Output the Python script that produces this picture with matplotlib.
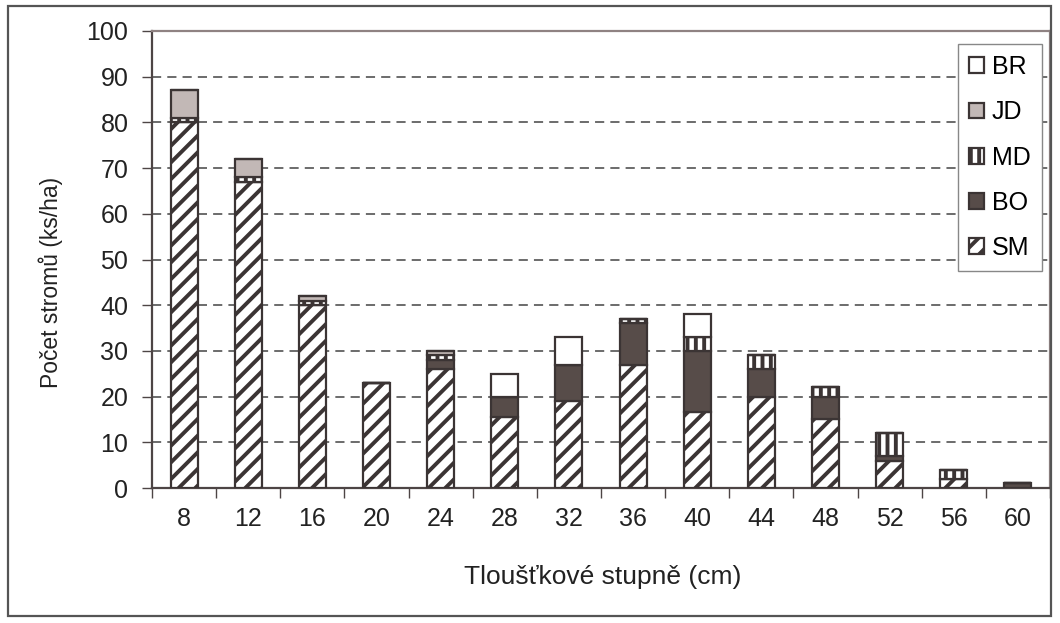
import matplotlib
matplotlib.use("Agg")
import matplotlib.pyplot as plt
import numpy as np
from matplotlib.patches import Rectangle

plt.rcParams['font.family'] = ['Liberation Sans', 'DejaVu Sans']
plt.rcParams['hatch.linewidth'] = 2.8

# tree diameter classes (cm)
classes = ['8', '12', '16', '20', '24', '28', '32', '36', '40', '44', '48', '52', '56', '60']

# trees per hectare by species
sm = [80, 67, 40, 23, 26, 15.5, 19, 27, 16.6, 20, 15, 5.8, 2, 0]
bo = [0, 0, 0, 0, 2, 4.5, 8, 9, 13.4, 6, 5, 1.2, 0, 1]
md = [1, 1, 1, 0, 1, 0, 0, 1, 3, 3, 2, 5, 2, 0]
jd = [6, 4, 1, 0, 1, 0, 0, 0, 0, 0, 0, 0, 0, 0]
br = [0, 0, 0, 0, 0, 5, 6, 0, 5, 0, 0, 0, 0, 0]

species = ['SM', 'BO', 'MD', 'JD', 'BR']
values = [sm, bo, md, jd, br]
colors = ['white', '#574c49', 'white', '#c2b8b6', 'white']
hatches = ['//', None, '||', None, None]

edge = '#3b3434'
txt = '#222222'

fig = plt.figure(figsize=(10.6, 6.23), dpi=100)
ax = fig.add_axes([152 / 1060, 1 - 488 / 623, 898 / 1060, 457 / 623])

x = np.arange(len(classes))
bottom = np.zeros(len(classes))
handles = []
for name, vals, col, hat in zip(species, values, colors, hatches):
    vals = np.array(vals, dtype=float)
    bars = ax.bar(x, vals, width=0.42, bottom=bottom, color=col, hatch=hat,
                  edgecolor=edge, linewidth=1.6, label=name, zorder=3)
    handles.append(bars)
    bottom += vals

ax.set_xlim(-0.5, len(classes) - 0.5)
ax.set_ylim(0, 100)
ax.set_yticks(np.arange(0, 101, 10))
ax.set_xticks(x)
ax.set_xticklabels(classes)
ax.set_xticks(np.arange(-0.5, len(classes)), minor=True)

ax.yaxis.grid(True, linestyle=(0, (6, 4)), color='#444444', linewidth=1.1, zorder=0)
ax.set_axisbelow(True)

ax.tick_params(axis='x', which='major', length=0, pad=14, labelsize=18, colors=txt)
ax.tick_params(axis='x', which='minor', length=7, width=1, color='#4d4545')
ax.tick_params(axis='y', length=7, width=1, pad=10, labelsize=18, colors=txt)
ax.tick_params(axis='y', color='#4d4545')

for side in ['left', 'bottom']:
    ax.spines[side].set_color('#4d4545')
    ax.spines[side].set_linewidth(1.6)
for side in ['top', 'right']:
    ax.spines[side].set_color('#8f8282')
    ax.spines[side].set_linewidth(1.6)

ax.set_xlabel('Tloušťkové stupně (cm)', fontsize=19, color=txt)
ax.xaxis.set_label_coords(0.502, -0.195)
ax.xaxis.label.set_va('center')
ax.set_ylabel('Počet stromů (ks/ha)', fontsize=16.5, color=txt)
ax.yaxis.set_label_coords(-0.113, 0.45)
ax.yaxis.label.set_va('center')

leg = ax.legend(handles[::-1], species[::-1], loc='upper right',
                bbox_to_anchor=(0.991, 0.972), fontsize=18, frameon=True,
                fancybox=False, edgecolor='#888888', framealpha=1,
                handlelength=0.6, handleheight=0.6, handletextpad=0.3,
                labelspacing=0.85, borderpad=0.45, borderaxespad=0)
leg.get_frame().set_linewidth(1.0)

# outer chart frame
fig.patches.append(Rectangle((8 / 1060, 7 / 623), 1043 / 1060, 610 / 623,
                             transform=fig.transFigure, fill=False,
                             edgecolor='#555555', linewidth=1.6))

fig.savefig('out.png', dpi=100)
